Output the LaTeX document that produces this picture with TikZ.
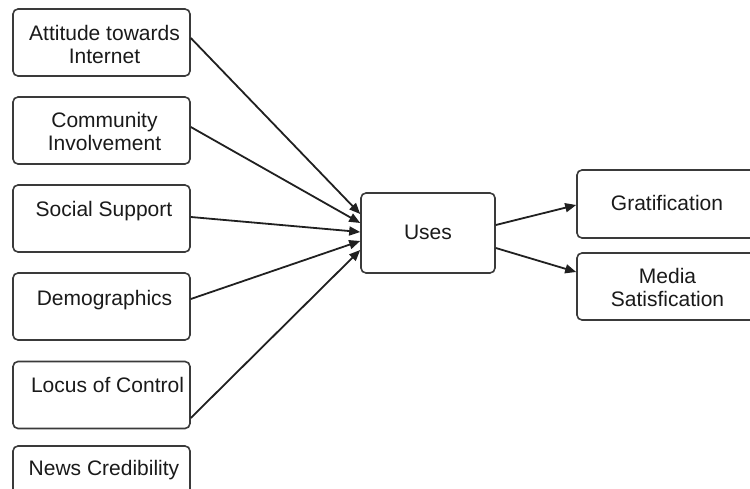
\documentclass[tikz,border=0pt]{standalone}
\usepackage{fontspec}
\setmainfont{Liberation Sans}
\usetikzlibrary{arrows.meta}
\tikzset{
  box/.style={draw=boxline, line width=1.6pt, rounded corners=5pt, fill=white,
    inner sep=0pt, minimum width=177pt, minimum height=67pt},
  lbl/.style={align=center, inner sep=0pt, font=\fontsize{21}{23}\selectfont, text=txt},
  link/.style={draw=arrowline, line width=1.8pt,
    -{Triangle[length=11pt, width=9pt]}},
}
\definecolor{boxline}{HTML}{3A3A3A}
\definecolor{arrowline}{HTML}{202020}
\definecolor{txt}{HTML}{1A1A1A}
\begin{document}
\begin{tikzpicture}[x=1pt, y=-1pt]
  \useasboundingbox (0,0) rectangle (750,489);
  \clip (0,0) rectangle (750,489);

  % factor boxes on the left
  \node[box] (att)  at (101.5, 42.5) {};
  \node[box] (com)  at (101.5,130.5) {};
  \node[box] (soc)  at (101.5,218.5) {};
  \node[box] (dem)  at (101.5,306.5) {};
  \node[box] (loc)  at (101.5,395)   {};
  \node[box] (news) at (101.5,479.5) {};

  \node[lbl] (t-att)  at (104.5, 44)   {Attitude towards\\Internet};
  \node[lbl] (t-com)  at (104.5,131.5) {Community\\Involvement};
  \node[lbl] (t-soc)  at (104,  211)   {Social Support};
  \node[lbl] (t-dem)  at (104.5,300)   {Demographics};
  \node[lbl] (t-loc)  at (107.5,385)   {Locus of Control};
  \node[lbl] (t-news) at (104,  470)   {News Credibility};

  % central box
  \node[box, minimum width=134pt, minimum height=80pt] (uses) at (428,233) {};
  \node[lbl] (t-uses) at (428,232) {Uses};

  % outcome boxes on the right
  \node[box, minimum width=180pt, minimum height=68pt] (grat) at (667,204) {};
  \node[box, minimum width=180pt, minimum height=67pt] (media) at (667,286.5) {};
  \node[lbl] (t-grat)  at (667,203) {Gratification};
  \node[lbl] (t-media) at (667.5,287) {Media\\Satisfication};

  % connectors into Uses
  \draw[link] ([yshift=4.5pt]att.east) -- ([yshift=19pt]uses.west);
  \draw[link] ([yshift=3.5pt]com.east) -- ([yshift=10pt]uses.west);
  \draw[link] ([yshift=1.5pt]soc.east) -- ([yshift=1pt]uses.west);
  \draw[link] ([yshift=7.5pt]dem.east) -- ([yshift=-8pt]uses.west);
  \draw[link] ([yshift=-23pt]loc.east) -- ([yshift=-17pt]uses.west);

  % connectors out of Uses
  \draw[link] ([yshift=8pt]uses.east) -- ([yshift=-1pt]grat.west);
  \draw[link] ([yshift=-15pt]uses.east) -- ([yshift=14.5pt]media.west);
\end{tikzpicture}
\end{document}
